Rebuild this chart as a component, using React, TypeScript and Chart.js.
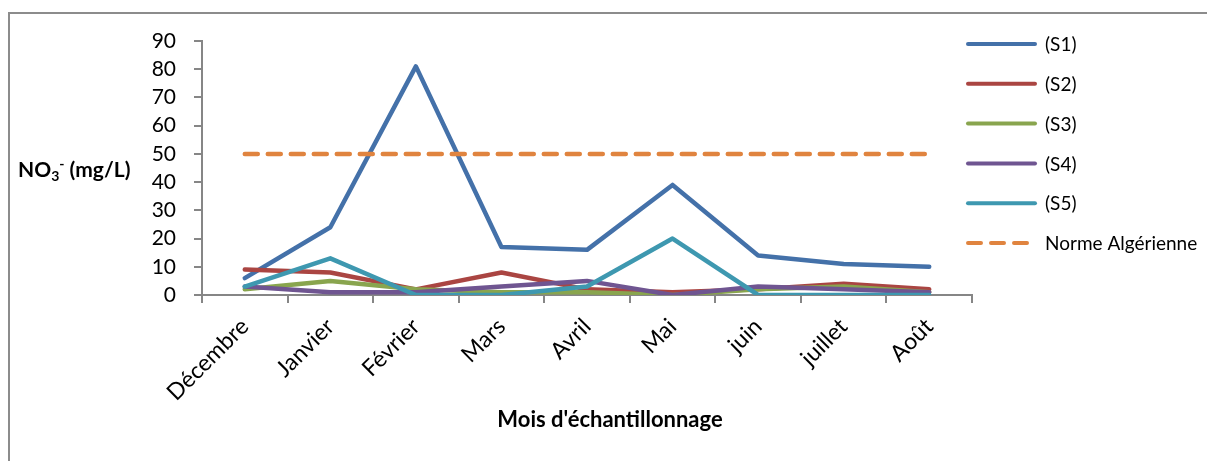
import React, { useEffect, useRef } from "react";
import { Chart, registerables } from "chart.js";

Chart.register(...registerables);

const months = ["Décembre", "Janvier", "Février", "Mars", "Avril", "Mai", "juin", "juillet", "Août"];
const s1 = [6, 24, 81, 17, 16, 39, 14, 11, 10];
const s2 = [9, 8, 2, 8, 2, 1, 2, 4, 2];
const s3 = [2, 5, 2, 1, 1, 0, 2, 3, 1];
const s4 = [3, 1, 1, 3, 5, 0, 3, 2, 1];
const s5 = [3, 13, 0, 0, 3, 20, 0, 0, 0];
const norme = [50, 50, 50, 50, 50, 50, 50, 50, 50];
const seriesNames = ["(S1)", "(S2)", "(S3)", "(S4)", "(S5)", "Norme Algérienne"];
const colors = ["#4471A9", "#AA4542", "#89A54E", "#6F5591", "#3E98B0", "#E0843F"];

const FONT = "Lato, 'Open Sans', sans-serif";

const decorPlugin = {
  id: "decor",
  afterDraw(chart: any) {
    const ctx = chart.ctx;
    ctx.save();
    // outer frame
    ctx.strokeStyle = "#8C8C8C";
    ctx.lineWidth = 2;
    ctx.strokeRect(9, 13, 1240, 500);

    // y title
    ctx.fillStyle = "#000";
    ctx.textBaseline = "alphabetic";
    ctx.textAlign = "left";
    let x = 18;
    const yb = 177;
    ctx.font = `bold 21px ${FONT}`;
    ctx.fillText("NO", x, yb);
    x += ctx.measureText("NO").width;
    ctx.font = `bold 14px ${FONT}`;
    ctx.fillText("3", x, yb + 4);
    const w3 = ctx.measureText("3").width;
    ctx.fillText("-", x + w3, yb - 8);
    x += w3 + ctx.measureText("-").width;
    ctx.font = `bold 21px ${FONT}`;
    ctx.fillText(" (mg/L)", x, yb);

    // x title
    ctx.textAlign = "center";
    ctx.textBaseline = "middle";
    ctx.font = `bold 22px ${FONT}`;
    ctx.fillText("Mois d'échantillonnage", 610, 420);

    // legend
    const ds = chart.data.datasets;
    ctx.textAlign = "left";
    ctx.font = `19px ${FONT}`;
    for (let i = 0; i < ds.length; i++) {
      const ly = 44 + i * 39.8;
      ctx.strokeStyle = ds[i].borderColor;
      ctx.lineWidth = 4;
      ctx.lineCap = "round";
      ctx.setLineDash(ds[i].borderDash || []);
      ctx.beginPath();
      ctx.moveTo(968, ly);
      ctx.lineTo(1035, ly);
      ctx.stroke();
      ctx.setLineDash([]);
      ctx.fillStyle = "#000";
      ctx.fillText(ds[i].label, 1045, ly + 1);
    }
    ctx.restore();
  },
};

export default function App() {
  const ref = useRef<HTMLCanvasElement>(null);
  useEffect(() => {
    const seriesData = [s1, s2, s3, s4, s5, norme];
    const datasets = seriesData.map((d, i) => ({
      label: seriesNames[i],
      data: d,
      borderColor: colors[i],
      backgroundColor: colors[i],
      borderWidth: 4.5,
      pointRadius: 0,
      tension: 0,
      fill: false,
      borderCapStyle: "round",
      borderJoinStyle: "round",
      borderDash: i === 5 ? [13, 10] : undefined,
      order: i === 5 ? 0 : 6 - i,
    }));
    const chart = new Chart(ref.current!, {
      type: "line",
      data: { labels: months, datasets: datasets as any },
      options: {
        animation: false,
        responsive: false,
        layout: { padding: { top: 41, right: 235, bottom: 0, left: 0 } },
        plugins: { legend: { display: false }, tooltip: { enabled: false } },
        scales: {
          x: {
            offset: true,
            grid: { display: true, offset: true, drawOnChartArea: false, drawTicks: true, tickLength: 8, color: "#868686", lineWidth: 2 },
            border: { display: true, color: "#868686", width: 2 },
            ticks: { maxRotation: 45, minRotation: 45, padding: 10, color: "#000", font: { family: FONT, size: 23 } },
            afterFit: (s: any) => { s.height = 461 - 295; },
          },
          y: {
            min: 0,
            max: 90,
            ticks: { stepSize: 10, padding: 18, color: "#000", font: { family: FONT, size: 21 } },
            grid: { display: true, drawOnChartArea: false, drawTicks: true, tickLength: 8, color: "#868686", lineWidth: 2 },
            border: { display: true, color: "#868686", width: 2 },
            afterFit: (s: any) => { s.width = 202; },
          },
        },
      },
      plugins: [decorPlugin],
    });
    return () => chart.destroy();
  }, []);
  return (
    <div style={{ position: "fixed", left: 0, top: 0, width: 1207, height: 461, background: "#fff" }}>
      <canvas ref={ref} width={1207} height={461} style={{ display: "block", width: 1207, height: 461 }} />
    </div>
  );
}
